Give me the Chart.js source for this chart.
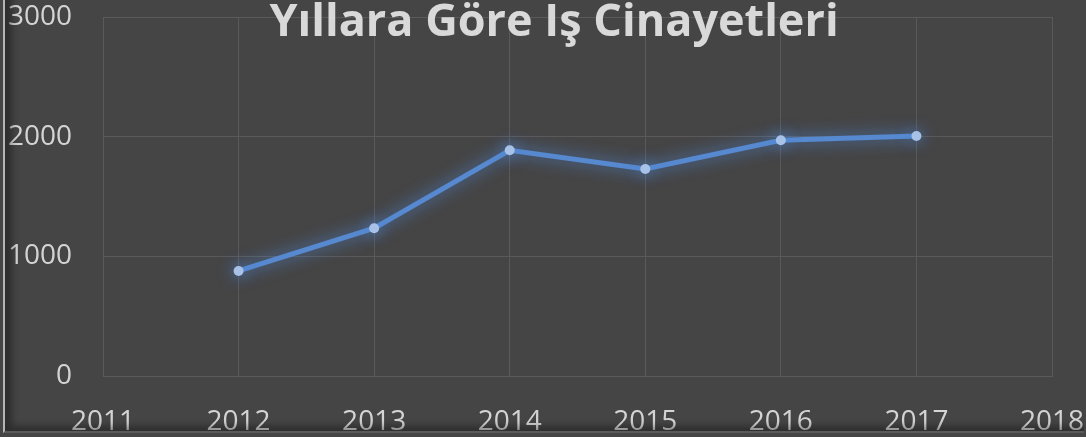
<!DOCTYPE html>
<html>
<head>
<meta charset="utf-8">
<script src="https://cdn.jsdelivr.net/npm/chart.js@4/dist/chart.umd.min.js"></script>
<style>
  html, body { margin: 0; padding: 0; background: #454545; overflow: hidden; }
  #wrap { position: relative; width: 1086px; height: 437px; background: #454545; }
  #frame {
    position: absolute; left: 3px; top: -4px; width: 1081px; height: 437px;
    border-left: 2px solid #b5b5b5; border-bottom: 2px solid #5a5a5a;
    box-shadow: inset 7px -5px 7px rgba(0,0,0,0.35);
    box-sizing: border-box; pointer-events: none;
  }
  #title {
    position: absolute; top: -4px; left: 554px; transform: translateX(-50%);
    font: bold 45px "Open Sans", sans-serif; line-height: 45px;
    color: #d9d9d9; white-space: nowrap;
  }
  canvas { position: absolute; left: 0; top: 0; }
</style>
</head>
<body>
<div id="wrap">
  <canvas id="myChart" width="1086" height="437"></canvas>
  <div id="frame"></div>
  <div id="title">Yıllara Göre Iş Cinayetleri</div>
</div>
<script>
// years on the x axis (2011 and 2018 are just the empty ends)
var years = ['2011', '2012', '2013', '2014', '2015', '2016', '2017', '2018'];
var deaths = [null, 878, 1235, 1886, 1730, 1970, 2006, null];
var yTicks = [0, 1000, 2000, 3000];

var gridColor = '#5a5a5a';
var textColor = '#d4d4d4';

// soft blue glow under the line
var glow = {
    id: 'glow',
    beforeDatasetDraw: function(chart) {
        var ctx = chart.ctx;
        ctx.save();
        ctx.shadowColor = 'rgba(80,140,230,0.9)';
        ctx.shadowBlur = 16;
    },
    afterDatasetDraw: function(chart) {
        chart.ctx.restore();
    }
};

var chartData = {
    labels: years,
    datasets: [
        {
            label: 'İş Cinayetleri',
            data: deaths,
            borderColor: '#5689cf',
            backgroundColor: '#a7c2e6',
            borderWidth: 5,
            pointRadius: 5,
            pointBorderWidth: 0,
            pointBackgroundColor: '#a7c2e6',
            tension: 0,
            spanGaps: false
        }
    ]
};

var lineGraph = new Chart(document.getElementById('myChart'), {
    type: 'line',
    data: chartData,
    plugins: [glow],
    options: {
        responsive: false,
        animation: false,
        layout: { padding: { top: 17, right: 34, left: 0, bottom: 0 } },
        plugins: {
            legend: { display: false },
            title: { display: false },
            tooltip: { enabled: false }
        },
        scales: {
            x: {
                offset: false,
                grid: { color: gridColor, lineWidth: 1, drawTicks: false },
                border: { color: gridColor },
                ticks: {
                    color: textColor,
                    padding: 29,
                    maxRotation: 0,
                    font: { family: 'Open Sans', size: 28 }
                },
                afterFit: function(scale) {
                    scale.height = 61;
                    scale.paddingLeft = 0;
                    scale.paddingRight = 0;
                }
            },
            y: {
                min: yTicks[0],
                max: yTicks[yTicks.length - 1],
                afterBuildTicks: function(scale) {
                    scale.ticks = yTicks.map(function(v) { return { value: v }; });
                },
                grid: { color: gridColor, lineWidth: 1, drawTicks: false },
                border: { color: gridColor },
                ticks: {
                    color: textColor,
                    padding: 31,
                    font: { family: 'Open Sans', size: 28 },
                    callback: function(v) { return String(v); }
                },
                afterFit: function(scale) {
                    scale.width = 103;
                    scale.paddingTop = 0;
                    scale.paddingBottom = 0;
                }
            }
        }
    }
});
</script>
</body>
</html>
